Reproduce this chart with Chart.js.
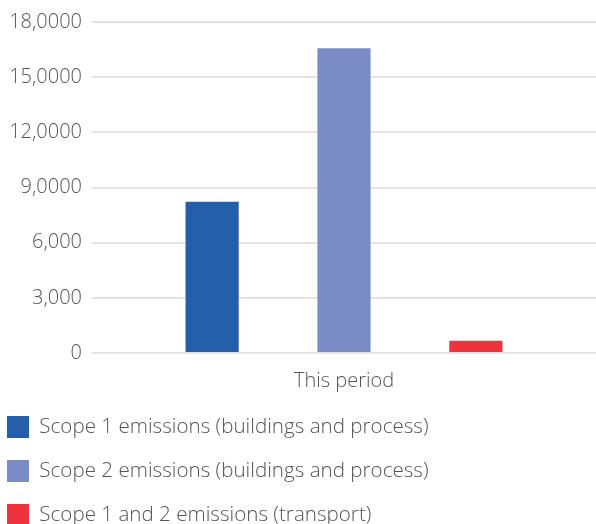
<!DOCTYPE html>
<html>
<head>
<meta charset="utf-8">
<script src="https://cdn.jsdelivr.net/npm/chart.js@4/dist/chart.umd.min.js"></script>
<style>
    html, body { margin: 0; padding: 0; background: #fff; }
    #wrap { width: 596px; height: 524px; }
</style>
</head>
<body>
<div id="wrap"><canvas id="chart"></canvas></div>
<script>
// данные графика
const categories = ['This period'];
const seriesNames = [
    'Scope 1 emissions (buildings and process)',
    'Scope 2 emissions (buildings and process)',
    'Scope 1 and 2 emissions (transport)'
];
const scope1Values = [8230];
const scope2Values = [16570];
const transportValues = [660];
const tickLabels = ['0', '3,000', '6,000', '9,0000', '12,0000', '15,0000', '18,0000'];

const colors = ['#255eaa', '#7b8bc6', '#ee333c'];
const fontFamily = "'Open Sans', 'Noto Sans', sans-serif";

function createChartConfig() {
    let config = {
        type: 'bar',
        data: {
            labels: categories,
            datasets: [
                { label: seriesNames[0], data: scope1Values, backgroundColor: colors[0] },
                { label: seriesNames[1], data: scope2Values, backgroundColor: colors[1] },
                { label: seriesNames[2], data: transportValues, backgroundColor: colors[2] }
            ]
        },
        options: {
            responsive: true,
            maintainAspectRatio: false,
            animation: false,
            datasets: {
                bar: { categoryPercentage: 0.785, barPercentage: 0.403 }
            },
            // legend starts at left + padding, so pull the whole layout left a bit
            layout: { padding: { top: 19, left: -15, right: 0, bottom: -12 } },
            plugins: {
                tooltip: { enabled: false },
                legend: {
                    position: 'bottom',
                    align: 'start',
                    labels: {
                        boxWidth: 22,
                        boxHeight: 22,
                        padding: 22,
                        color: '#555',
                        font: { family: fontFamily, size: 20.6, weight: '300' }
                    }
                }
            },
            scales: {
                x: {
                    grid: { display: false },
                    border: { display: false },
                    afterFit: (scale) => { scale.height -= 7; },
                    ticks: {
                        color: '#555',
                        padding: 8,
                        font: { family: fontFamily, size: 20, weight: '300' }
                    }
                },
                y: {
                    min: 0,
                    max: 18000,
                    border: { display: false },
                    grid: { color: '#e3e3e3', lineWidth: 2, drawTicks: false },
                    afterFit: (scale) => { scale.width = 107; },
                    ticks: {
                        stepSize: 3000,
                        padding: 10,
                        color: '#555',
                        font: { family: fontFamily, size: 20, weight: '300' },
                        callback: (value, index) => tickLabels[index]
                    }
                }
            }
        }
    };
    return config;
}

const ctx = document.getElementById('chart');
new Chart(ctx, createChartConfig());
</script>
</body>
</html>
